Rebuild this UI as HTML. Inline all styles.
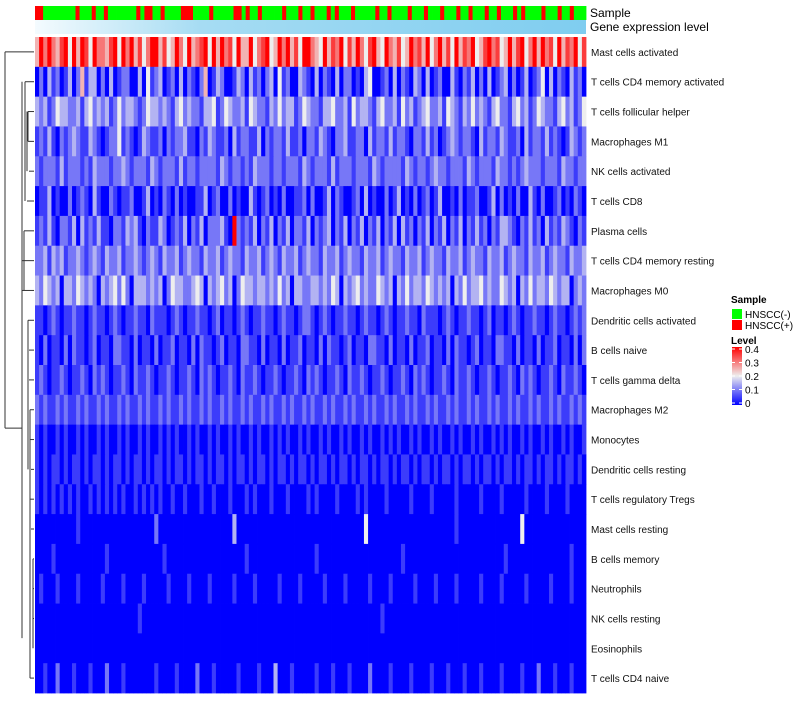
<!DOCTYPE html>
<html><head><meta charset="utf-8"><style>
body{margin:0;background:#fff;font-family:"Liberation Sans",sans-serif}
#wrap{position:relative;width:800px;height:700px}
</style></head><body>
<div id="wrap">
<svg id="svg" width="800" height="700" xmlns="http://www.w3.org/2000/svg"></svg>
</div>
<script>
const rowNames=["Mast cells activated","T cells CD4 memory activated","T cells follicular helper","Macrophages M1","NK cells activated","T cells CD8","Plasma cells","T cells CD4 memory resting","Macrophages M0","Dendritic cells activated","B cells naive","T cells gamma delta","Macrophages M2","Monocytes","Dendritic cells resting","T cells regulatory  Tregs","Mast cells resting","B cells memory","Neutrophils","NK cells resting","Eosinophils","T cells CD4 naive"];
// levels: digit d -> value d*0.05
const rowLevels=[
"58686578485874866578486857468857458648567848586748558467845868574886548576847586478548657458675846857485768457867458578468586748576847",
"02031201302513302030122003041230120302102501320013203120230412003210302103022010340012030210320301200310213020301230201301240302103120",
"32312433223134232312423321243323213423221334124322314322132423312432213342231423321342231423123422314321324232134221342312432213423124",
"12131021232113210122412101321120212231102132112031221130212213112022132102231122031221312210221312012321221031221321120312213121013212",
"21222131222121322212232122213212221312212222132122121322212212221321222131222122213212222132122123221222132122213221212322212221322122",
"01130100201210310021011200130102102010011301200201003101201020011202001302100120301002013010201201300102011200130201020031020012010210",
"12131022130312131102213231021132012130213022231082121302130213022130212302130213021302130312021302130213021312021332102131203121321021",
"22313231223212321322312232123213223123221322312322132231232132231232213223123221322312322132231232213223123221322312322132231232213223",
"32432303324323203234242033323230243322343032342302433233232423033223323243032342322432303242332432323032423342322432303242332432330232",
"11012101121101211012101121102111012101121101201101210112110121101221012101121101211012101121102111012101121101201101210112110121101212",
"10201102021101201102211020110201120110202110120110221102011020112011020211012011022110201102011201102021101201102211020110201120110202",
"12101121011210212101121021121011210112102121011210211210112101121021210112102112101121011210212101121021121011210112102121011210211210",
"21211212112121121211212112121121211212112121121211212112121121211212112121121211212112121121211212112121121211212112121121211212112121",
"10100101001010010100101001010010101001010010100101001010010101001010010100101001010010101001010010100101001010010101001010010100101001",
"10101101011010110101101011010110101101011010110101101011010110101101011010110101101011010110101101011010110101101011010110101101011010",
"10101010101001010101010010101010010010001001000100010100010001000010100001000010100001000001000010000010000010000100000100001000010000",
"00000000001000000000000000000200000000000000000030000000000000000000000000000000400000000000000000000010000000000000004000000000000000",
"00001000000000000100000000000001000000000000000000010000000000000000100000000000000000000100000000000000000000000010000000000000001000",
"01000100001000001000010000100000100001000010000010000100000100001000001000010000010000100000100001000010000010000100000100000100001000",
"00000000000000000000000001000000000000000000000000000000000000000000000000000000000010000000000000000000000000000000000000000000000000",
"00000000000000000000000000000000000000000000000000000000000000000000000000000000000000000000000000000000000000000000000000000000000000",
"00100200010001000200010000000100001000020001000001000010003000100000100010001000020000100001000010001000100010000100001000200010001000"];
const sampleStr="rrggggggggrgggrggrgggggggrgrrggrggggrrrggggrgggggrrgrggrgggggrgggrggrgggrgrgggrgggggrggrggggrgggrgggrgggrggrgggrggrgggrgrggggrgggrggrggg";
const ticks=["0","0.1","0.2","0.3","0.4"];
const tickVals=[0,0.1,0.2,0.3,0.4];

const svg=document.getElementById('svg');const NS="http://www.w3.org/2000/svg";
function mk(t,a,p){const e=document.createElementNS(NS,t);for(const k in a)e.setAttribute(k,a[k]);(p||svg).appendChild(e);return e;}
const X0=35,X1=586,Y0=37,Y1=693,RH=(Y1-Y0)/rowNames.length;
function col(v){const t=Math.max(0,Math.min(1,v/0.4));let r,g,b;
 if(t<0.5){const u=t/0.5;r=Math.round(u*238);g=Math.round(u*238);b=Math.round(255-u*17);}
 else{const u=(t-0.5)/0.5;r=Math.round(238+u*17);g=Math.round(238-u*238);b=Math.round(238-u*238);}
 return `rgb(${r},${g},${b})`;}
function yRow(i){return Y0+i*RH;}
const sw=(X1-X0)/sampleStr.length;
for(let j=0;j<sampleStr.length;j++){const e=mk('rect',{x:X0+j*sw,y:6,width:sw+0.4,height:14,fill:sampleStr[j]==='r'?'#ff0000':'#00ff00'});

}
const defs=mk('defs',{});const lg=mk('linearGradient',{id:'gg',x1:0,x2:1,y1:0,y2:0},defs);
mk('stop',{offset:0,'stop-color':'#f4fbfe'},lg);mk('stop',{offset:0.3,'stop-color':'#a6dcf3'},lg);mk('stop',{offset:1,'stop-color':'#7fcdf0'},lg);
const ge=mk('rect',{x:X0,y:20,width:X1-X0,height:14,fill:'url(#gg)'});


let t=mk('text',{x:590,y:17,'font-size':12});t.textContent="Sample";


t=mk('text',{x:590,y:31,'font-size':12});t.textContent="Gene expression level";


rowLevels.forEach((s,i)=>{const w=(X1-X0)/s.length;
 for(let j=0;j<s.length;j++){const e=mk('rect',{x:X0+j*w,y:yRow(i),width:w+0.4,height:RH+0.4,fill:col(+s[j]*0.05)});
 
 }
 const l=mk('text',{x:591,y:yRow(i)+RH/2+4,'font-size':10,fill:'#111'});l.textContent=rowNames[i];
 
 
});
const dg=mk('g',{stroke:'#333','stroke-width':1,fill:'none'});


function yc(i){return yRow(i)+RH/2;}
function seg(x1,y1,x2,y2){mk('line',{x1,y1,x2,y2},dg);}
const leafX=[5,25,28,28,29,27,24,22,22,28,29,29,30,30,31,30,31,33,33,33,34,30];
leafX.forEach((x,i)=>seg(x,yc(i),X0-1,yc(i)));
seg(5,yc(0),5,yc(21)-250); seg(5,yc(21)-250,22,yc(21)-250);
seg(22,yc(1),22,yc(21)-40);
seg(25,yc(1),25,yc(5)); seg(27,yc(2),27,yc(4));seg(28,yc(2),28,yc(3));
seg(24,yc(6),24,yc(8)); seg(28,yc(9),28,yc(14)); seg(30,yc(12),30,yc(21));seg(33,yc(17),33,yc(20));
t=mk('text',{x:731,y:303,'font-size':10,'font-weight':'bold'});t.textContent="Sample";

[["#00ff00","HNSCC(-)",309],["#ff0000","HNSCC(+)",320]].forEach(d=>{
 const r=mk('rect',{x:732,y:d[2],width:10,height:10,fill:d[0]});
 
 const tt=mk('text',{x:745,y:d[2]+9,'font-size':10});tt.textContent=d[1];
 });
t=mk('text',{x:731,y:344,'font-size':10,'font-weight':'bold'});t.textContent="Level";

const cg=mk('linearGradient',{id:'cg',x1:0,x2:0,y1:1,y2:0},defs);
for(let k=0;k<=8;k++)mk('stop',{offset:k/8,'stop-color':col(k*0.05)},cg);
const cb=mk('rect',{x:732,y:347,width:10,height:58,fill:'url(#cg)'});

ticks.forEach((s,k)=>{const y=403-tickVals[k]/0.4*54;
 mk('line',{x1:732,x2:735,y1:y,y2:y,stroke:'#fff'});mk('line',{x1:739,x2:742,y1:y,y2:y,stroke:'#fff'});
 const tt=mk('text',{x:745,y:y+4,'font-size':10});tt.textContent=s;
 });
</script>
</body></html>
